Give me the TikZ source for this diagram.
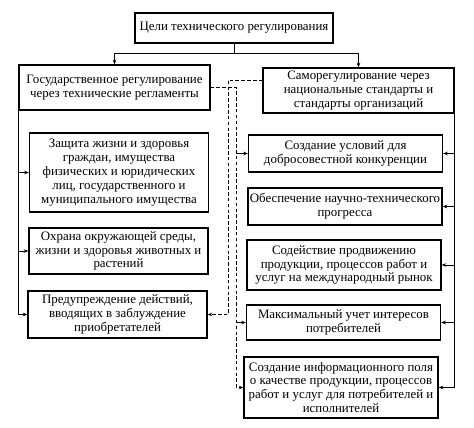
\documentclass[tikz,border=0pt]{standalone}
\usepackage{fontspec}
\setmainfont{Liberation Serif}
\usetikzlibrary{arrows.meta}

\begin{document}
\begin{tikzpicture}[
    x=0.03cm, y=-0.03cm,
    box/.style={draw, line width=1pt, align=center, inner sep=1pt,
        font=\fontsize{11}{11.8}\selectfont}, % Стиль для блоков
    lbox/.style={box, minimum width=5.37cm}, % Левая колонка
    rbox/.style={box, minimum width=5.82cm}, % Правая колонка
    link/.style={line width=0.8pt, -{Stealth[length=4pt,width=3pt]}}, % Сплошные связи
    dlink/.style={link, dashed, dash pattern=on 3pt off 2pt} % Пунктирные связи
]
    \useasboundingbox (0,0) rectangle (474,428);

    % Верхний уровень
    \node[box, minimum width=5.94cm, minimum height=0.9cm] (goal) at (234,28) {Цели технического регулирования};
    \node[box, minimum width=5.73cm, minimum height=1.35cm] (state) at (114.5,87.5)
        {Государственное регулирование\\через технические регламенты};
    \node[box, minimum width=5.73cm, minimum height=1.35cm] (self) at (358.5,90.5)
        {Саморегулирование через\\национальные стандарты и\\стандарты организаций};

    % Левая колонка
    \node[lbox, minimum height=2.37cm] (L1) at (119,172.5)
        {Защита жизни и здоровья\\граждан, имущества\\физических и юридических\\лиц, государственного и\\муниципального имущества};
    \node[lbox, minimum height=1.38cm] (L2) at (118.5,251)
        {Охрана окружающей среды,\\жизни и здоровья животных и\\растений};
    \node[lbox, minimum height=1.41cm] (L3) at (117.5,314.5)
        {Предупреждение действий,\\вводящих в заблуждение\\приобретателей};

    % Правая колонка
    \node[rbox, minimum height=1.11cm] (R1) at (345.5,153.5)
        {Создание условий для\\добросовестной конкуренции};
    \node[rbox, minimum height=1.11cm] (R2) at (345,206.5)
        {Обеспечение научно-технического\\прогресса};
    \node[rbox, minimum height=1.5cm] (R3) at (344,265)
        {Содействие продвижению\\продукции, процессов работ и\\услуг на международный рынок};
    \node[rbox, minimum height=1.05cm] (R4) at (343.5,322.5)
        {Максимальный учет интересов\\потребителей};
    \node[rbox, minimum height=1.83cm] (R5) at (341,387.5)
        {Создание информационного поля\\о качестве продукции, процессов\\работ и услуг для потребителей и\\исполнителей};

    % Точки для шины и пунктиров
    \coordinate (busL) at (114.5,53);
    \coordinate (busR) at (358.5,53);
    \coordinate (dA) at (236,0);
    \coordinate (dB) at (228,80);

    % Связи сверху
    \draw[line width=0.8pt] (goal.south) -- (goal.south |- busL);
    \draw[line width=0.8pt] (busL) -- (busR);
    \draw[link] (busL) -- (state.north);
    \draw[link] (busR) -- (self.north);

    % Левая шина
    \draw[link] (state.south west) |- (L3.west);
    \draw[link] (state.south west |- L1.west) -- (L1.west);
    \draw[link] (state.south west |- L2.west) -- (L2.west);

    % Правая шина
    \draw[link] (self.south east) |- (R5.east);
    \foreach \r in {R1,R2,R3,R4}
        \draw[link] (self.south east |- \r.east) -- (\r.east);

    % Пунктирные связи
    \draw[dlink] (state.east) -| (dA |- R5.west) -- (R5.west);
    \draw[link] (dA |- R1.west) -- (R1.west);
    \draw[link] (dA |- R4.west) -- (R4.west);
    \draw[dlink] (self.west |- dB) -- (dB) |- (L3.east);

\end{tikzpicture}
\end{document}
